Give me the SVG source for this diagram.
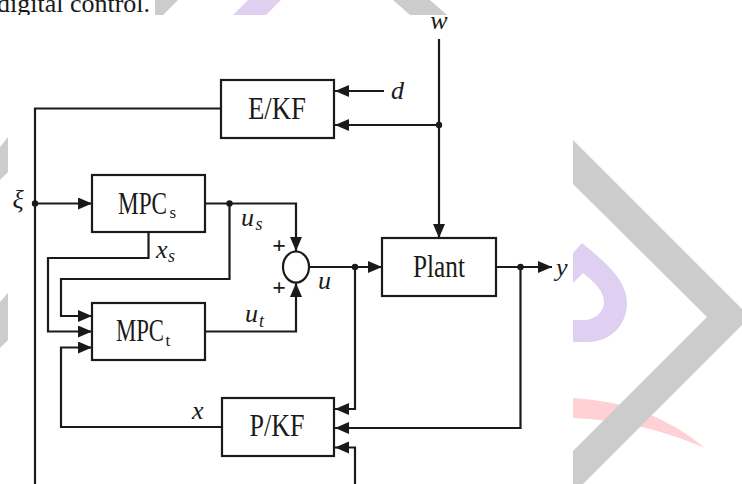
<svg xmlns="http://www.w3.org/2000/svg" width="742" height="484" viewBox="0 0 742 484">
<defs>
<marker id="ah" markerUnits="userSpaceOnUse" markerWidth="15" markerHeight="13" refX="14" refY="6" orient="auto"><path d="M0,0 L14,6 L0,12 Z" fill="#1a1a1a"/></marker>
<clipPath id="fig"><rect x="8" y="15" width="565" height="469"/></clipPath>
</defs>
<style>
.ln{fill:none;stroke:#1a1a1a;stroke-width:2.2}
.ar{marker-end:url(#ah)}
.box{fill:#fff;stroke:#1a1a1a;stroke-width:2.2}
.dot{fill:#1a1a1a}
.bt{font-family:"Liberation Serif",serif;font-size:31px;fill:#1a1a1a}
.it{font-family:"Liberation Serif",serif;font-style:italic;font-size:26px;fill:#1a1a1a}
.sub{font-family:"Liberation Serif",serif;font-size:17px;fill:#1a1a1a}
.isub{font-family:"Liberation Serif",serif;font-style:italic;font-size:18px;fill:#1a1a1a}
.pl{font-family:"Liberation Serif",serif;font-weight:bold;font-size:24px;fill:#1a1a1a}
.wg{fill:#cccccc}
.wp{fill:#dfcff0}
.wr{fill:#ffd0d4}
</style>
<rect width="742" height="484" fill="#fff"/>
<g id="watermark">
<polygon class="wg" points="155,0 178,0 163,15 155,15"/>
<polygon class="wp" points="248,0 281,0 266,15 233,15"/>
<polygon class="wg" points="393,0 430,0 447,15 410,15"/>
<polygon class="wg" points="0,147 8,137 8,172 0,180"/>
<polygon class="wg" points="0,302 8,293 8,340 0,348"/>
<path class="wp" d="M573,253 L582,243 C605,262 627,280 627,303 C627,326 609,342 588,342 L573,342 L573,320 L583,320 C595,320 604,312 604,302 C604,292 595,282 583,273 L573,283 Z"/>
<path class="wr" d="M573,398 Q650,402 705,448 Q640,420 573,418 Z"/>
<polygon class="wg" points="573,140 750,317 573,494 573,451 707,317 573,184"/>
</g>
<rect x="0" y="0" width="155" height="15" fill="#fff"/>
<text x="-3" y="12" font-family="Liberation Serif, serif" font-size="26" fill="#1a1a1a">digital control.</text>
<rect x="8" y="15" width="565" height="469" fill="#fff"/>
<g clip-path="url(#fig)">
<g id="connectors">
<line class="ln ar" x1="384" y1="91" x2="335" y2="91"/>
<line class="ln ar" x1="439" y1="39" x2="439" y2="238"/>
<line class="ln ar" x1="439" y1="125" x2="335" y2="125"/>
<circle class="dot" cx="439" cy="125" r="3.2"/>
<path class="ln" d="M221,108.5 H35 V490"/>
<line class="ln ar" x1="35" y1="203.5" x2="92" y2="203.5"/>
<circle class="dot" cx="35" cy="203.5" r="3.2"/>
<path class="ln ar" d="M205,203.5 H296 V251"/>
<circle class="dot" cx="229.5" cy="203.5" r="3.2"/>
<path class="ln ar" d="M229.5,203.5 V279 H61 V316 H92"/>
<path class="ln ar" d="M148.5,232 V258 H48 V331.5 H92"/>
<path class="ln ar" d="M205,331.5 H296 V283"/>
<line class="ln ar" x1="309" y1="267" x2="382" y2="267"/>
<circle class="dot" cx="355" cy="267" r="3.2"/>
<path class="ln ar" d="M355,267 V409 H335"/>
<line class="ln ar" x1="496" y1="267" x2="552" y2="267"/>
<circle class="dot" cx="520.5" cy="267" r="3.2"/>
<path class="ln ar" d="M520.5,267 V428 H335"/>
<path class="ln ar" d="M355,490 V447.5 H335"/>
<path class="ln ar" d="M222,427 H61 V347.5 H92"/>
</g>
<g id="ekf">
<rect class="box" x="221" y="80" width="113" height="58"/>
<text class="bt" x="248" y="119" textLength="58" lengthAdjust="spacingAndGlyphs">E/KF</text>
</g>
<g id="mpcs">
<rect class="box" x="92" y="175" width="113" height="57"/>
<text class="bt" x="118" y="214" textLength="49" lengthAdjust="spacingAndGlyphs">MPC</text>
<text class="sub" x="169.5" y="218">s</text>
</g>
<g id="mpct">
<rect class="box" x="92" y="303" width="113" height="57"/>
<text class="bt" x="116" y="341" textLength="48" lengthAdjust="spacingAndGlyphs">MPC</text>
<text class="sub" x="165.5" y="346">t</text>
</g>
<g id="sum">
<ellipse cx="296" cy="267" rx="13" ry="15.5" fill="#fff" stroke="#1a1a1a" stroke-width="2.2"/>
<text class="pl" x="279" y="253" text-anchor="middle">+</text>
<text class="pl" x="279" y="295" text-anchor="middle">+</text>
</g>
<g id="plant">
<rect class="box" x="382" y="238" width="114" height="58"/>
<text class="bt" x="413" y="277" textLength="52" lengthAdjust="spacingAndGlyphs">Plant</text>
</g>
<g id="pkf">
<rect class="box" x="222" y="398" width="112" height="58"/>
<text class="bt" x="249.5" y="436" textLength="55" lengthAdjust="spacingAndGlyphs">P/KF</text>
</g>
<g id="labels">
<text class="it" x="391" y="99">d</text>
<text class="it" x="439" y="29" text-anchor="middle">w</text>
<text class="it" x="18" y="208" text-anchor="middle" font-size="32">ξ</text>
<text class="it" x="241" y="226">u</text>
<text class="isub" x="255.5" y="230">s</text>
<text class="it" x="156" y="258">x</text>
<text class="isub" x="168" y="262">s</text>
<text class="it" x="318" y="289">u</text>
<text class="it" x="245" y="322">u</text>
<text class="isub" x="259" y="327">t</text>
<text class="it" x="192" y="419">x</text>
<text class="it" x="556" y="276">y</text>
</g>
</g>
</svg>
